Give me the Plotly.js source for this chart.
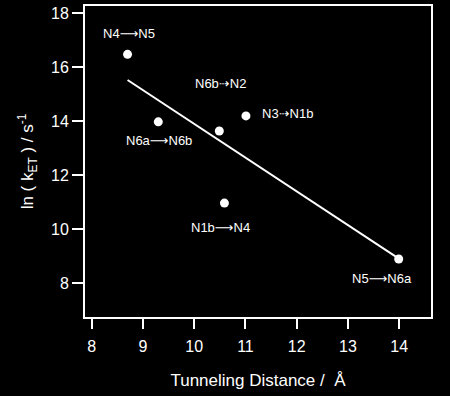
<!DOCTYPE html>
<html>
<head>
<meta charset="utf-8">
<script src="https://cdn.plot.ly/plotly-3.0.1.min.js"></script>
<style>html,body{margin:0;padding:0;background:#000;}#chart{width:450px;height:396px;}</style>
</head>
<body>
<div id="chart"></div>
<script>
const distances = [8.70, 9.30, 10.49, 11.01, 10.59, 13.99];
const lnRates = [16.47, 13.97, 13.63, 14.19, 10.96, 8.89];
const donors = ["N4", "N6a", "N6b", "N3", "N1b", "N5"];
const acceptors = ["N5", "N6b", "N2", "N1b", "N4", "N6a"];
const arrowKinds = ["solid", "solid", "dotted", "dotted", "solid", "solid"];
const fitX = [8.70, 14.0];
const fitY = [15.52, 8.89];
const xTicks = [8, 9, 10, 11, 12, 13, 14];
const yTicks = [8, 10, 12, 14, 16, 18];

const labelShift = [[1, 21], [1, -19], [1, 47], [42, 2], [-4, -24], [-17, -20]];

const font = "Liberation Sans, Arial, sans-serif";
const arrowGlyph = {solid: "\u27F6", dotted: "\u21E2"};

const traces = [
  {x: fitX, y: fitY, mode: 'lines', line: {color: '#fff', width: 2}, hoverinfo: 'skip'},
  {x: distances, y: lnRates, mode: 'markers', marker: {color: '#fff', size: 9}, hoverinfo: 'skip'}
];

const annotations = donors.map((d, i) => ({
  x: distances[i], y: lnRates[i], xref: 'x', yref: 'y',
  text: d + '<span style="font-family:DejaVu Sans">' + arrowGlyph[arrowKinds[i]] + '</span>' + acceptors[i],
  showarrow: false,
  xshift: labelShift[i][0], yshift: labelShift[i][1],
  font: {family: font, size: 13, color: '#fff'}
}));

const layout = {
  width: 450, height: 396,
  margin: {l: 85, r: 19, t: 6, b: 79},
  paper_bgcolor: '#000', plot_bgcolor: '#000',
  showlegend: false,
  font: {family: font, color: '#fff'},
  xaxis: {
    range: [7.87, 14.62], tickvals: xTicks, ticktext: xTicks.map(String),
    showgrid: false, zeroline: false, showline: true, mirror: true,
    linecolor: '#fff', linewidth: 2, ticks: 'outside', ticklen: 10, tickwidth: 2, tickcolor: '#fff',
    ticklabelstandoff: 4,
    tickfont: {family: font, size: 16, color: '#fff'},
    title: {text: 'Tunneling Distance /  \u00C5', font: {family: font, size: 17, color: '#fff'}, standoff: 20}
  },
  yaxis: {
    range: [6.74, 18.26], tickvals: yTicks, ticktext: yTicks.map(String),
    showgrid: false, zeroline: false, showline: true, mirror: true,
    linecolor: '#fff', linewidth: 2, ticks: 'outside', ticklen: 11, tickwidth: 2, tickcolor: '#fff',
    tickfont: {family: font, size: 16, color: '#fff'},
    title: {text: 'ln ( k<sub>ET</sub> ) / s<sup>-1</sup>', font: {family: font, size: 17, color: '#fff'}, standoff: 13}
  },
  annotations: annotations
};

Plotly.newPlot('chart', traces, layout, {displayModeBar: false, staticPlot: true});
</script>
</body>
</html>
